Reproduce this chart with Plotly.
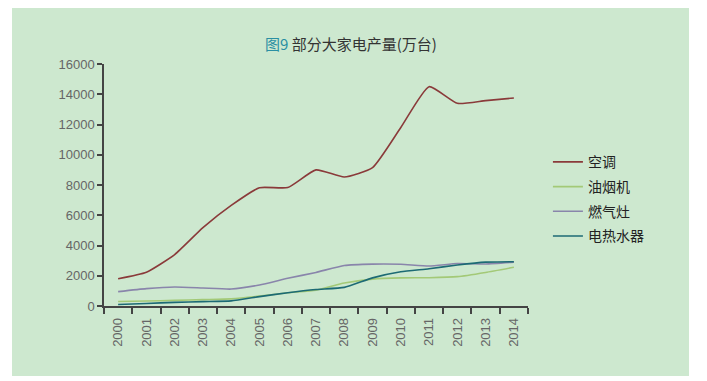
import plotly.graph_objects as go

years = [str(y) for y in range(2000, 2015)]
air_conditioner = [1800, 2230, 3400, 5180, 6650, 7820, 7830, 9000, 8530, 9150, 11800, 14500, 13400, 13580, 13750]
range_hood = [300, 330, 370, 420, 470, 650, 880, 1050, 1520, 1780, 1860, 1870, 1940, 2220, 2560]
gas_stove = [950, 1150, 1260, 1190, 1120, 1390, 1830, 2220, 2680, 2770, 2760, 2640, 2810, 2780, 2900]
water_heater = [100, 170, 240, 290, 340, 620, 880, 1090, 1230, 1860, 2260, 2460, 2710, 2900, 2930]
y_ticks = [0, 2000, 4000, 6000, 8000, 10000, 12000, 14000, 16000]

names = ["空调", "油烟机", "燃气灶", "电热水器"]
series = [air_conditioner, range_hood, gas_stove, water_heater]
colors = ["#8a3a3a", "#a3c977", "#8985ab", "#1c6a74"]

bg = "#cde8cf"
font_family = "Noto Sans CJK SC, Noto Sans, sans-serif"

W, H = 699, 373
L, T, PW, PH = 96, 56, 424, 242

fig = go.Figure()
for i, (n, s, c) in enumerate(zip(names, series, colors)):
    fig.add_trace(go.Scatter(
        x=years, y=s, name=n, mode="lines",
        line=dict(color=c, width=1.6, shape="spline", smoothing=0.5),
        legendgroup=f"g{i}",
    ))

fig.update_layout(
    width=W, height=H,
    margin=dict(l=L, r=W - L - PW, t=T, b=H - T - PH, autoexpand=False),
    paper_bgcolor="white",
    plot_bgcolor=bg,
    font=dict(family=font_family, color="#333"),
    title=dict(
        text="<span style='color:#2a8fa3'>图9</span> 部分大家电产量(万台)",
        x=343 / W, xref="container", xanchor="center",
        y=1 - 37 / H, yref="container", yanchor="middle",
        font=dict(size=15, color="#333", family=font_family),
    ),
    showlegend=True,
    legend=dict(
        x=1.047, xanchor="left", y=0.66, yanchor="top",
        font=dict(size=14, color="#222", family=font_family),
        tracegroupgap=3.5, bgcolor="rgba(0,0,0,0)",
    ),
    xaxis=dict(
        type="category", range=[-0.5, 14.5],
        tickson="boundaries", ticks="outside", ticklen=6, tickwidth=1.5,
        tickcolor="#444", showline=True, linecolor="#444", linewidth=1.5,
        tickangle=-90, showgrid=False, zeroline=False, ticklabelstandoff=5,
        tickfont=dict(size=13, color="#666", family="Liberation Sans, Arial"),
    ),
    yaxis=dict(
        range=[0, 16000], tickvals=y_ticks, tickformat="d",
        ticks="outside", ticklen=5, tickwidth=1.5, tickcolor="#444",
        showline=True, linecolor="#444", linewidth=1.5,
        showgrid=False, zeroline=False,
        tickfont=dict(size=13, color="#666", family="Liberation Sans, Arial"),
    ),
    shapes=[dict(
        type="rect", xref="paper", yref="paper", layer="below",
        x0=(4 - L) / PW, x1=(681 - L) / PW,
        y0=(T + PH - 368) / PH, y1=(T + PH + 10) / PH,
        fillcolor=bg, line=dict(width=0),
    )],
)

fig.write_html("out.html")
